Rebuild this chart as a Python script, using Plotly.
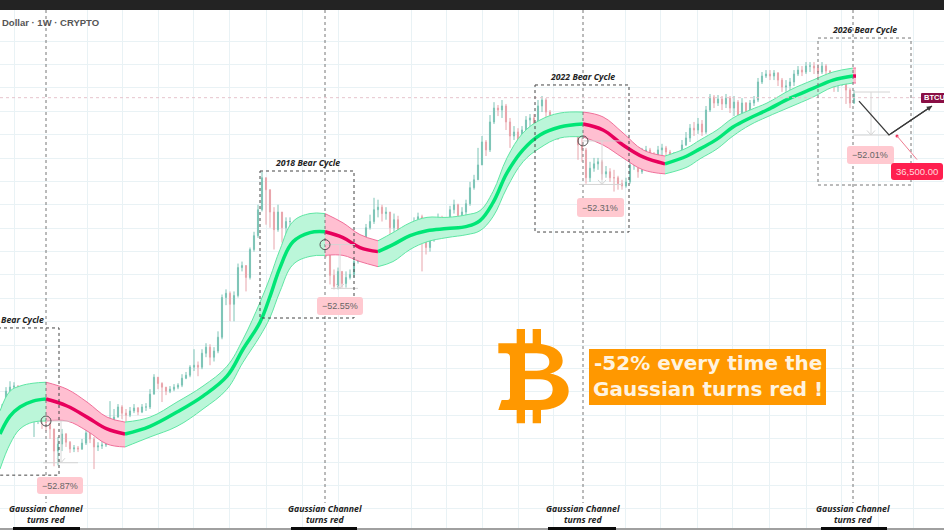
import math
import plotly.graph_objects as go

# ---- weekly-style candles (prices in USD) ----
close_2014 = [352,461,494,503,469,414,370,301,312,317,286,268,242,166,187,222,193,172,175,172,190,226,204,178,181,184,211,277,296,352,317,306]
high_2014 = [370,494,546,537,511,461,414,389,352,370,329,296,268,234,211,242,226,197,184,181,204,242,234,211,193,197,234,389,340,370,363,340]
low_2014 = [329,352,438,461,431,376,340,277,211,263,242,234,204,128,130,166,178,161,163,163,169,184,190,122,166,172,178,211,258,296,286,272]

close_2016 = [329,346,323,352,352,438,585,526,494,461,477,494,511,575,605,695,718,695,881,977,823,914,1158,2280,2450,2030,2360,3800,3930,3210,5170,6550,10200,17600,14350]
high_2016 = [352,370,352,370,376,477,616,585,537,494,503,520,528,616,640,718,943,765,943,1045,1027,977,1280,2400,2620,2530,2530,4070,4210,3800,5350,7000,11100,19500,17600]
low_2016 = [296,317,306,317,329,340,438,477,383,431,446,461,477,494,566,585,650,595,671,823,718,765,881,1118,2000,1520,1520,2280,3560,2530,3100,4990,6300,9900,7900]

close_2018 = [9800,7260,9800,7500,8340,8340,7000,5820,5520,7260,6120,6340,5720,5720,5170,3330,2760,3560,2900,3210,3380,4210,4520,5620,7500,8340,10200,10650,9550,9800,7500,8600,7260,6120,6550,7260,8340,9050,6340,5350,6120,8340,8600,8340,8340,10200,11100,9200,9800,11300,14850,17000]
high_2018 = [14350,10650,11100,9800,8950,8950,8340,6550,6120,7760,7260,7000,6550,6340,6120,5350,3680,3800,3560,3560,3680,4520,5170,6340,8000,9370,12500,12100,11100,10650,9550,9550,9200,7260,7260,7760,8950,9700,9370,7260,6550,8950,9550,9200,8950,10900,12100,11300,10650,12100,16400,18500]
low_2018 = [7500,5170,7000,5820,6340,7000,5170,5170,5170,5350,5620,5520,5350,5350,4520,2850,2620,2620,2700,2700,3100,3210,4070,4210,5520,7260,8000,8950,8340,8600,6120,7000,6340,5350,5900,6120,6800,7500,3560,4750,4990,5900,7760,7500,7500,7760,9550,8600,8600,9200,10900,14350]

close_2021 = [21900,32400,28300,45600,57800,55900,59900,45600,35900,38400,33500,39750,47100,48800,41800,59900,66300,54000,45600,39750,37200,39750,42500,44000,39100,30800,28300,17600,20700,22300,23100,18800,19500,17600,17600,15900,15300,16400,21900,23100,19500,26500,28300,26000,24700,28300]
high_2021 = [29300,35900,33500,51300,63900,60900,66300,62000,48800,42500,41000,42500,50400,52200,52200,66300,71000,68500,55900,48800,42500,44000,47100,47100,45600,39750,34700,29300,23100,24700,24700,23900,21500,20700,20150,18200,17000,17600,23900,24700,24700,29300,30300,29300,27300,30300]
low_2021 = [17000,21900,25500,27300,44000,50400,48800,39750,29300,33500,30300,31400,37200,41000,38400,41000,54000,47100,39750,35900,33500,34700,37200,38400,35900,23900,23100,15900,16400,19500,20150,17000,17600,16400,13900,14350,14350,14850,15900,20150,17600,18800,24700,23900,23100,23900]

close_2024 = [29300,27300,24700,25500,24700,30800,34700,41000,39750,44000,38400,55900,69700,63000,67400,62000,68500,57800,64000,51300,63000,54000,63000,66300,90200,99800,103300,99800,105100,93200,82700,84200,90200,103300,110500,106900,118400,118400,114400,106900,118400,108600,96600,87100,90200,90200,78600,63000,73500]
high_2024 = [31400,30300,28300,27300,27300,33500,38400,44000,45600,48800,47100,59900,73500,72200,72200,71000,73500,71000,71000,66300,68500,64000,66300,71000,96600,106900,110500,110500,110500,106900,96600,93200,96600,110500,118400,118400,126700,126700,126700,122400,126700,122400,110500,99800,96600,96600,93200,81200,78600]
low_2024 = [25500,25500,22300,22300,23100,24700,30300,32400,35900,37200,35900,37200,54000,57800,59900,55900,57800,53100,50400,47100,48800,50400,50400,59900,64000,87100,96600,93200,93200,84200,76200,76200,78600,84200,99800,99800,103300,106900,103300,96600,103300,96600,87100,76200,76200,84200,62000,57800,62000]

bar_close = close_2014 + close_2016 + close_2018 + close_2021 + close_2024
bar_high = high_2014 + high_2016 + high_2018 + high_2021 + high_2024
bar_low = low_2014 + low_2016 + low_2018 + low_2021 + low_2024
bar_open = [bar_close[0]] + bar_close[:-1]
bar_index = list(range(2, 2 + 4 * len(bar_close), 4))

# ---- Gaussian channel ----
channel_index = [0,10,20,33,46,67,87,107,125,150,177,203,227,243,260,270,280,293,310,325,343,360,378,393,410,427,447,467,480,493,507,523,540,560,583,603,623,643,665,687,700,717,733,750,767,790,813,833,853,856]
channel_upper = [329,461,503,528,537,477,383,296,272,296,383,503,706,1118,2100,3210,5170,8340,9550,9550,8150,6670,6000,6900,8150,8950,8950,9370,10050,13900,24700,37800,47100,53100,54000,49700,37800,28300,25500,29300,33500,39750,48800,55900,63000,78600,93200,106900,114400,114400]
channel_mid = [222,301,352,389,403,358,296,242,222,253,323,424,595,943,1495,2320,3800,5900,6900,7000,6340,5350,4990,5620,6550,7130,7400,7680,8470,11500,19100,28300,36500,41800,44000,39750,30800,25100,22300,25500,28800,34000,41800,48800,55900,68500,80800,93200,99800,99800]
channel_lower = [122,187,242,272,277,277,234,187,178,211,253,340,477,755,1180,1620,2530,4000,4600,4680,4680,4210,3860,4210,5170,5900,6340,6670,7130,9050,14850,23100,29300,34700,35300,30800,24700,20150,18800,21100,24300,28800,35900,43300,49700,58800,69700,82700,88600,88600]
segment_edges = [0, 46, 125, 325, 378, 583, 665, 853, 856]

# ---- events ----
turn_index = [46, 325, 583, 853]
turn_price = [277, 5620, 33000]
cycle_boxes = [(-20, 59, 1356, 110), (260, 354, 19746, 1607), (535, 629, 85700, 6970), (818, 911, 191000, 15550)]
measures = [(46, 78, 43, 78, 61, 277, 136), (325, 355, 331, 358, 340, 5620, 2665), (583, 623, 579, 622, 602, 33000, 15700), (853, 890, 853, 890, 871, 76000, 36500)]
last_price = 69000
forecast_index = [859, 889, 932]
forecast_price = [65000, 36500, 59900]
target_index = [897, 917]
target_price = [35900, 24000]
grid_prices = [181500,121800,81700,54800,36750,24650,16540,11100,7440,4990,3350,2247,1507,1011,678,455,305,205,137,92.2,61.8]
grid_index = [14,87,122,158,193,229,266,302,338,411,446,482,518,553,625,660,697,732,769,806,841,878,913]

W, H = 944, 530
FONT = "DejaVu Sans"
SANS = "Liberation Sans"
CAPTION = "Open Sans"
fig = go.Figure()

GREEN, RED = "#00e676", "#e8005c"
for i in range(len(segment_edges) - 1):
    a, b = segment_edges[i], segment_edges[i + 1]
    idx = [k for k, v in enumerate(channel_index) if a <= v <= b]
    xs = [channel_index[k] for k in idx]
    is_red = i % 2 == 1
    edge = "#f0709a" if is_red else "#5fe6a4"
    fill = "#ffbfd1" if is_red else "#bbf6d9"
    fig.add_trace(go.Scatter(x=xs, y=[channel_lower[k] for k in idx], mode="lines",
                             line=dict(color=edge, width=1, shape="spline", smoothing=1.1), hoverinfo="skip"))
    fig.add_trace(go.Scatter(x=xs, y=[channel_upper[k] for k in idx], mode="lines", fill="tonexty", fillcolor=fill,
                             line=dict(color=edge, width=1, shape="spline", smoothing=1.1), hoverinfo="skip"))
for i in range(len(segment_edges) - 1):
    a, b = segment_edges[i], segment_edges[i + 1]
    idx = [k for k, v in enumerate(channel_index) if a <= v <= b]
    fig.add_trace(go.Scatter(x=[channel_index[k] for k in idx], y=[channel_mid[k] for k in idx], mode="lines",
                             line=dict(color=RED if i % 2 else GREEN, width=3.5, shape="spline", smoothing=1.1),
                             hoverinfo="skip"))

fig.add_trace(go.Candlestick(x=bar_index, open=bar_open, high=bar_high, low=bar_low, close=bar_close,
                             increasing=dict(line=dict(color="#7cc4b6", width=1), fillcolor="#7cc4b6"),
                             decreasing=dict(line=dict(color="#e8a4ab", width=1), fillcolor="#e8a4ab"),
                             whiskerwidth=0))

Y_TOP, Y_BOTTOM = 5.5628, 1.6349
def line(xs, ys, color, width=1, dash="solid"):
    fig.add_trace(go.Scatter(x=xs, y=ys, mode="lines", line=dict(color=color, width=width, dash=dash), hoverinfo="skip"))

# last price line
line([0, W], [last_price, last_price], "#e6c4cd", 1, "dot")
# vertical event lines
for x in turn_index:
    line([x, x], [10 ** (Y_TOP - (Y_TOP - Y_BOTTOM) * 10 / 530), 10 ** (Y_TOP - (Y_TOP - Y_BOTTOM) * 503 / 530)], "#777777", 1, "dot")
# measuring tools
for x0, x1, x2, x3, xv, top, bottom in measures:
    line([x0, x1], [top, top], "#d4d4d4", 1)
    line([x2, x3], [bottom, bottom], "#d4d4d4", 1)
    line([xv, xv], [top, bottom], "#d8d8d8", 1)
    fig.add_trace(go.Scatter(x=[xv - 4, xv, xv + 4], y=[bottom * 1.08, bottom, bottom * 1.08], mode="lines",
                             line=dict(color="#d4d4d4", width=1), hoverinfo="skip"))
# bear-cycle boxes
for i, (x0, x1, top, bottom) in enumerate(cycle_boxes):
    line([x0, x1, x1, x0, x0], [top, top, bottom, bottom, top], "#444444" if i < 3 else "#777777", 1, "3px,3px")
# circles at the turn
fig.add_trace(go.Scatter(x=turn_index[:3], y=turn_price, mode="markers",
                         marker=dict(symbol="circle-open", size=10, color="#555555", line=dict(width=1)), hoverinfo="skip"))
# forecast
line(forecast_index, forecast_price, "#3a3a3a", 1.3)
fig.add_trace(go.Scatter(x=[target_index[0]], y=[target_price[0]], mode="markers",
                         marker=dict(size=3, color="#f0305a"), hoverinfo="skip"))
line(target_index, target_price, "#ee7c90", 1)

# ---- helpers for picture-space decoration ----
def px(x, y):
    return f"{x / W:.5f},{1 - y / H:.5f}"

def logo(zx, zy):
    return px(480 + zx / 3, 320 + zy / 3)

def rrect(x0, y0, x1, y1, r, color):
    d = (f"M{px(x0 + r, y0)} L{px(x1 - r, y0)} Q{px(x1, y0)} {px(x1, y0 + r)} L{px(x1, y1 - r)} "
         f"Q{px(x1, y1)} {px(x1 - r, y1)} L{px(x0 + r, y1)} Q{px(x0, y1)} {px(x0, y1 - r)} L{px(x0, y0 + r)} "
         f"Q{px(x0, y0)} {px(x0 + r, y0)} Z")
    return dict(type="path", path=d, xref="paper", yref="paper", fillcolor=color, line=dict(width=0), layer="above")

def rect(x0, y0, x1, y1, color):
    return dict(type="rect", xref="paper", yref="paper", x0=x0 / W, x1=x1 / W, y0=1 - y0 / H, y1=1 - y1 / H,
                fillcolor=color, line=dict(width=0), layer="above")

def label(text, x, y, size, color="#222222", anchor="center", family=FONT, bold=False):
    t = f"<b>{text}</b>" if bold else text
    fig.add_annotation(x=x / W, y=1 - y / H, xref="paper", yref="paper", text=t, showarrow=False,
                       xanchor=anchor, yanchor="middle", font=dict(family=family, size=size, color=color), align="center")

def z(pts):
    return " ".join(logo(*p) for p in pts)

b_path = ("M" + logo(55, 70) + " L" + " L".join(logo(*p) for p in [(110,70),(110,27),(135,27),(135,70),(158,70),(158,27),(183,27),(183,72)])
          + " C" + z([(225,78),(248,95),(248,122)]) + " C" + z([(248,140),(235,155),(210,160)])
          + " C" + z([(245,168),(266,185),(266,212)]) + " C" + z([(266,245),(235,268),(183,270)])
          + " L" + " L".join(logo(*p) for p in [(183,310),(158,310),(158,270),(135,270),(135,310),(110,310),(110,270),(55,270),(65,240),(82,240)])
          + " C" + z([(88,240),(90,236),(90,230)]) + " L" + logo(90,112) + " C" + z([(90,104),(85,100),(78,100)])
          + " L" + logo(55,100) + " Z"
          + " M" + logo(135,100) + " L" + logo(135,152) + " L" + logo(170,152) + " C" + z([(195,152),(208,142),(208,126)])
          + " C" + z([(208,110),(195,100),(170,100)]) + " Z"
          + " M" + logo(135,178) + " L" + logo(135,240) + " L" + logo(180,240) + " C" + z([(205,240),(218,228),(218,208)])
          + " C" + z([(218,190),(205,178),(180,178)]) + " Z")

shapes = [
    rect(0, 0, W, 10, "#232323"),
    rect(0, 528, W, 530, "#a0a0a0"),
    rect(13, 527, 80, 530, "#0a0a0a"),
    rect(291, 527, 357, 530, "#0a0a0a"),
    rect(548, 527, 616, 530, "#0a0a0a"),
    rect(821, 527, 887, 530, "#0a0a0a"),
    rrect(37, 477, 83, 494, 3, "#ffc9d0"),
    rrect(317, 297, 363, 315, 3, "#ffc9d0"),
    rrect(577, 198, 624, 217, 3, "#ffc9d0"),
    rrect(847, 146, 894, 164, 3, "#ffc9d0"),
    rrect(891, 163, 943, 180, 3, "#ff1f4f"),
    rrect(921, 93, 950, 103, 1, "#8a0f45"),
    rect(589, 349, 826, 405, "#ff9800"),
    dict(type="path", path=b_path, xref="paper", yref="paper", fillcolor="#ff9800", line=dict(width=0), layer="above",
         fillrule="evenodd"),
]

for x, y, t in zip([60, 340, 600, 870], [485.5, 306, 207.5, 155], ["−52.87%", "−52.55%", "−52.31%", "−52.01%"]):
    label(t, x, y, 9, "#666666", family=SANS)
label("36,500.00", 917, 171.5, 9.5, "#ffd9de", family=SANS)
label("BTCU", 921.5, 98, 7.5, "#ffffff", "left", family=SANS, bold=True)
label("Dollar · 1W · CRYPTO", 0, 23, 9.5, "#555555", "left", family=SANS, bold=True)
for x in turn_index:
    label("<i>Gaussian Channel<br>turns red</i>", x, 514.5, 8.7, "#222222", family=CAPTION, bold=True)
label("<i>Bear Cycle</i>", 46, 320, 8.7, "#222222", "right", family=CAPTION, bold=True)
label("<i>2018 Bear Cycle</i>", 307, 163, 8.7, "#222222", family=CAPTION, bold=True)
label("<i>2022 Bear Cycle</i>", 582, 77, 8.7, "#222222", family=CAPTION, bold=True)
label("<i>2026 Bear Cycle</i>", 864, 30, 8.7, "#222222", family=CAPTION, bold=True)
label("-52% every time the", 707.5, 363, 20, "#fff3df", bold=True)
label("Gaussian turns red !", 708, 389, 20, "#fff3df", bold=True)

# arrow head of the forecast
fig.add_annotation(x=forecast_index[2], y=math.log10(forecast_price[2]), ax=forecast_index[1], ay=math.log10(forecast_price[1]),
                   xref="x", yref="y", axref="x", ayref="y", text="", showarrow=True, arrowhead=2, arrowsize=0.8,
                   arrowwidth=1.3, arrowcolor="#3a3a3a")

fig.update_layout(
    width=W, height=H, margin=dict(l=0, r=0, t=0, b=0), paper_bgcolor="white", plot_bgcolor="white",
    showlegend=False, shapes=shapes, boxgap=0.6,
    xaxis=dict(range=[0, W], showticklabels=False, ticks="", zeroline=False, showgrid=True, gridcolor="#e9f2f5",
               gridwidth=1, tickmode="array", tickvals=grid_index, rangeslider=dict(visible=False), fixedrange=True),
    yaxis=dict(type="log", range=[Y_BOTTOM, Y_TOP], showticklabels=False, ticks="", zeroline=False, showgrid=True,
               gridcolor="#e9f2f5", gridwidth=1, tickmode="array", tickvals=grid_prices, fixedrange=True),
)
fig.write_html("out.html", config={"displayModeBar": False}, post_script="document.body.style.margin='0';document.body.style.overflow='hidden';")
